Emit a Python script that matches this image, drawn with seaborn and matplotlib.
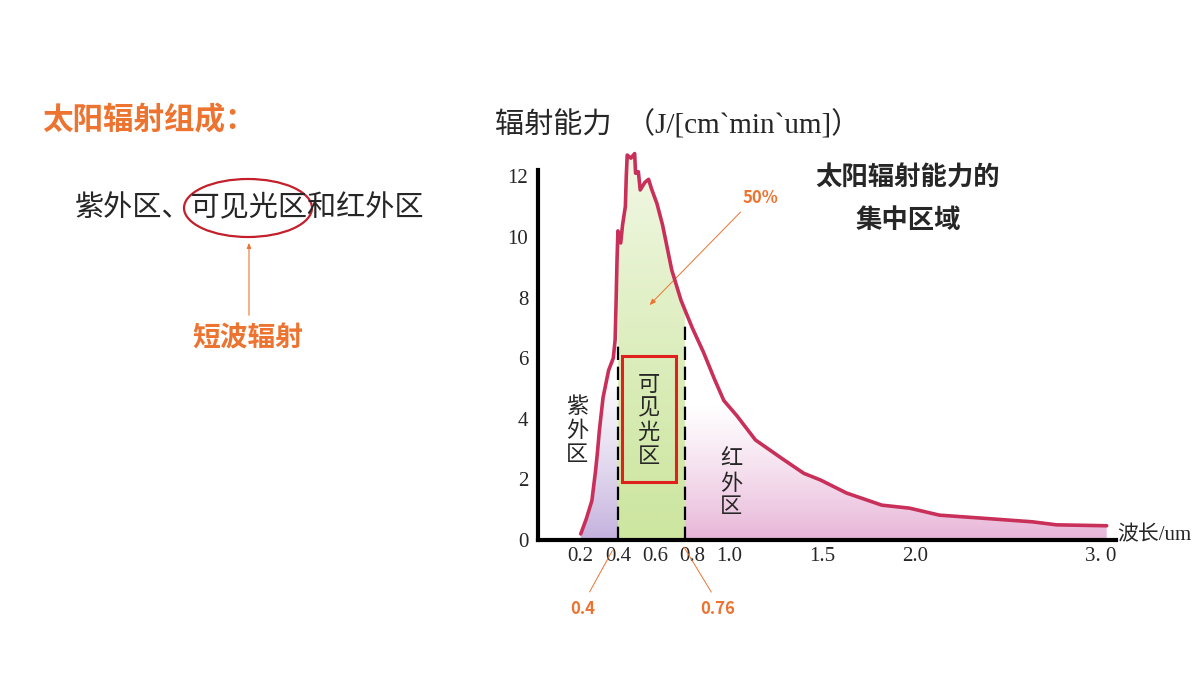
import numpy as np
import matplotlib
matplotlib.use("Agg")
import matplotlib.pyplot as plt
import seaborn as sns
from matplotlib.colors import to_rgb
from matplotlib.patches import Ellipse, Rectangle

sns.set_style("white")
plt.rcParams['font.family'] = ['Noto Sans CJK SC', 'DejaVu Sans']

# solar spectrum (um, J/[cm^2 min um])
wavelength = [0.20, 0.23, 0.26, 0.28, 0.29, 0.30, 0.32, 0.35, 0.375, 0.385, 0.39, 0.395,
              0.40, 0.415, 0.425, 0.44, 0.445, 0.45, 0.47, 0.49, 0.495, 0.51, 0.52,
              0.545, 0.565, 0.58, 0.61, 0.64, 0.69, 0.74, 0.80, 0.86, 0.92, 0.97,
              1.04, 1.14, 1.28, 1.40, 1.49, 1.63, 1.82, 1.97, 2.13, 2.36, 2.63,
              2.76, 3.03]
power = [0.2, 0.7, 1.3, 2.3, 2.9, 3.6, 4.7, 5.6, 6.0, 6.6, 7.8, 9.2,
         10.2, 9.8, 10.4, 11.0, 12.0, 12.7, 12.6, 12.75, 12.1, 12.15, 11.55,
         11.8, 11.9, 11.6, 11.1, 10.4, 8.9, 7.9, 7.0, 6.2, 5.3, 4.6,
         4.1, 3.3, 2.7, 2.2, 1.98, 1.55, 1.15, 1.05, 0.82, 0.72, 0.6,
         0.5, 0.47]

x_ticks = [0.2, 0.4, 0.6, 0.8, 1.0, 1.5, 2.0, 3.0]
x_labels = ['0.2', '0.4', '0.6', '0.8', '1.0', '1.5', '2.0', '3. 0']
y_ticks = [0, 2, 4, 6, 8, 10, 12]
band_edges = [0.4, 0.76]
dash_tops = [6.5, 7.1]

ORANGE = '#ec7330'
CURVE = '#c8305a'
W, H = 1200, 675


def fy(y):
    return 1 - y / H


fig = plt.figure(figsize=(12, 6.75), dpi=100)
ax = fig.add_axes([538 / W, 1 - 540 / H, 578 / W, 394 / H])
x0, x1, ytop = -0.03, 3.08, 13

# gradient fill under the curve: purple (UV), green (visible), pink (IR)
xs = np.linspace(x0, x1, 700)
ys = np.linspace(0, ytop, 400)
XX, YY = np.meshgrid(xs, ys)
white = np.array([1.0, 1.0, 1.0])
purple = np.array(to_rgb('#c2aedc'))
green_lo = np.array(to_rgb('#cde6a0'))
green_hi = np.array(to_rgb('#f2f8e6'))
pink = np.array(to_rgb('#e6b2d6'))
t_uv = np.clip(YY / 5.5, 0, 1)[..., None] ** 0.8
t_vis = np.clip(YY / 12.8, 0, 1)[..., None] ** 1.2
t_ir = np.clip(YY / 4.4, 0, 1)[..., None] ** 0.8
img_uv = purple * (1 - t_uv) + white * t_uv
img_vis = green_lo * (1 - t_vis) + green_hi * t_vis
img_ir = pink * (1 - t_ir) + white * t_ir
img = np.where((XX < band_edges[0])[..., None], img_uv,
               np.where((XX < band_edges[1])[..., None], img_vis, img_ir))
poly = ax.fill_between(wavelength, 0, power, color='none', lw=0)
im = ax.imshow(img, extent=[x0, x1, 0, ytop], origin='lower', aspect='auto',
               interpolation='bilinear', zorder=1)
im.set_clip_path(poly.get_paths()[0], transform=ax.transData)

sns.lineplot(x=wavelength, y=power, ax=ax, color=CURVE, lw=2.6,
             sort=False, estimator=None, zorder=4)

ax.vlines(band_edges, 0, dash_tops, colors='k', linestyles=(0, (6, 3)), lw=1.6, zorder=3)

ax.set_xlim(x0, x1)
ax.set_ylim(0, ytop)
ax.set_xticks(x_ticks, x_labels)
ax.set_yticks(y_ticks)
sns.despine(ax=ax)
ax.spines['left'].set_bounds(0, 12.2)
for s in ['left', 'bottom']:
    ax.spines[s].set_linewidth(3)
    ax.spines[s].set_color('k')
ax.tick_params(direction='in', length=6, width=3, color='k', pad=5)
ax.tick_params(axis='y', pad=7)
for lab in ax.get_xticklabels() + ax.get_yticklabels():
    lab.set_fontfamily(['Liberation Serif'])
    lab.set_fontsize(15)

# band labels and box
ax.add_patch(Rectangle((0.42, 1.9), 0.29, 4.17, fill=False, ec='#e0201c', lw=2.2, zorder=5))
ax.text(0.565, 3.95, '可\n见\n光\n区', ha='center', va='center', fontsize=16,
        linespacing=1.05, zorder=6)
ax.text(0.18, 3.6, '紫\n外\n区', ha='center', va='center', fontsize=16, linespacing=1.05)
ax.text(1.01, 1.88, '红\n外\n区', ha='center', va='center', fontsize=16, linespacing=1.05)

# orange call-outs
ax.annotate('50%', xy=(0.57, 7.75), xytext=(1.164, 11.29), ha='center', va='center',
            color=ORANGE, fontsize=12, fontweight='bold',
            arrowprops=dict(arrowstyle='-|>,head_length=0.3,head_width=0.12', color=ORANGE,
                            lw=0.7, relpos=(0.1, 0.0), shrinkA=2, shrinkB=0))
ax.annotate('0.4', xy=(0.37, -0.35), xytext=(0.21, -2.28), ha='center', va='center',
            color=ORANGE, fontsize=12, fontweight='bold', annotation_clip=False,
            arrowprops=dict(arrowstyle='-', color=ORANGE, lw=0.7, relpos=(0.6, 1.0),
                            shrinkA=4, shrinkB=0))
ax.annotate('0.76', xy=(0.755, -0.23), xytext=(0.938, -2.28), ha='center', va='center',
            color=ORANGE, fontsize=12, fontweight='bold', annotation_clip=False,
            arrowprops=dict(arrowstyle='-', color=ORANGE, lw=0.7, relpos=(0.45, 1.0),
                            shrinkA=4, shrinkB=0))

# axis titles
fig.text(495 / W, fy(125), '辐射能力  （J/[cm`min`um]）', ha='left', va='center',
         fontsize=21, family=['Liberation Serif', 'Noto Sans CJK SC'])
fig.text(1117 / W, fy(536), '波长/um', ha='left', va='center',
         fontsize=15, family=['Liberation Serif', 'Noto Sans CJK SC'])

# right-hand note
fig.text(908 / W, fy(178), '太阳辐射能力的', ha='center', va='center', fontsize=19, fontweight='bold')
fig.text(908 / W, fy(220), '集中区域', ha='center', va='center', fontsize=19, fontweight='bold')

# left-hand panel
fig.text(42 / W, fy(120), '太阳辐射组成：', ha='left', va='center', fontsize=22,
         fontweight='bold', color=ORANGE)
fig.text(75 / W, fy(208), '紫外区、可见光区和红外区', ha='left', va='center', fontsize=21,
         fontweight='medium')
fig.add_artist(Ellipse((248 / W, fy(208)), 128 / W, 58 / H, transform=fig.transFigure,
                       fill=False, ec='#c4202c', lw=1.6))
ax.annotate('', xy=(249, H - 240), xytext=(249, H - 318), xycoords='figure pixels',
            textcoords='figure pixels', annotation_clip=False,
            arrowprops=dict(arrowstyle='-|>,head_length=0.3,head_width=0.12', color=ORANGE, lw=0.8))
fig.text(248 / W, fy(338), '短波辐射', ha='center', va='center', fontsize=20,
         fontweight='bold', color=ORANGE)

fig.savefig('out.png', dpi=100, facecolor='white')
